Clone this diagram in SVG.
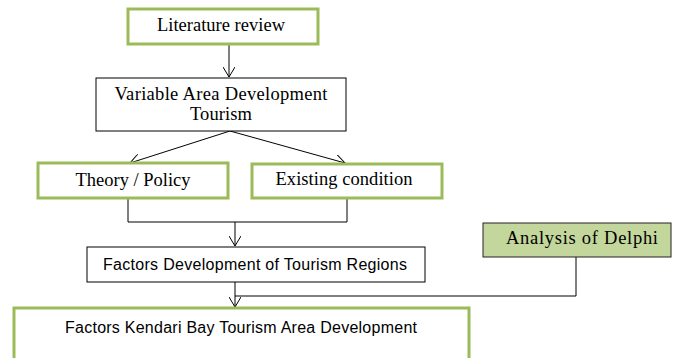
<svg xmlns="http://www.w3.org/2000/svg" width="675" height="358" viewBox="0 0 675 358">
<defs>
<style>
.green{fill:#fff;stroke:#9BBB59;stroke-width:3}
.plain{fill:#fff;stroke:#000;stroke-width:1}
.serif{font-family:"Liberation Serif","DejaVu Serif",serif;font-size:18.5px;fill:#000;text-anchor:middle}
.sans{font-family:"Liberation Sans","DejaVu Sans",sans-serif;font-size:16px;fill:#000;text-anchor:middle}
.line{fill:none;stroke:#000;stroke-width:1}
</style>
<marker id="arr" markerWidth="12" markerHeight="12" refX="10" refY="6" orient="auto" markerUnits="userSpaceOnUse">
<polyline points="0,0 10,6 0,12" fill="none" stroke="#000" stroke-width="1"/>
</marker>
</defs>
<rect width="675" height="358" fill="#fff"/>
<g id="connectors">
<line class="line" x1="229" y1="45" x2="229" y2="77" marker-end="url(#arr)"/>
<line class="line" x1="230" y1="131" x2="130" y2="163" marker-end="url(#arr)"/>
<line class="line" x1="230" y1="131" x2="345" y2="163" marker-end="url(#arr)"/>
<polyline class="line" points="128,199 128,222 347,222 347,199"/>
<line class="line" x1="235" y1="222" x2="235" y2="246" marker-end="url(#arr)"/>
<line class="line" x1="235" y1="282" x2="235" y2="307" marker-end="url(#arr)"/>
<polyline class="line" points="235,296 576,296 576,257"/>
</g>
<g id="literature">
<rect class="green" x="128" y="9" width="190" height="35"/>
<text class="serif" x="221" y="31" textLength="128">Literature review</text>
</g>
<g id="variable">
<rect class="plain" x="96" y="78" width="250" height="53"/>
<text class="serif" x="221" y="100" textLength="213">Variable Area Development</text>
<text class="serif" x="221" y="120" textLength="62">Tourism</text>
</g>
<g id="theory">
<rect class="green" x="38" y="163" width="190" height="35"/>
<text class="serif" x="133" y="186" textLength="115">Theory / Policy</text>
</g>
<g id="existing">
<rect class="green" x="252" y="164" width="190" height="34"/>
<text class="serif" x="344" y="185" textLength="137">Existing condition</text>
</g>
<g id="factors">
<rect class="plain" x="87" y="247" width="338" height="35"/>
<text class="sans" x="255" y="270" textLength="304">Factors Development of Tourism Regions</text>
</g>
<g id="delphi">
<rect x="483" y="223" width="188" height="34" fill="#C3D69B" stroke="#222" stroke-width="1"/>
<text class="serif" x="582" y="244" textLength="152">Analysis of Delphi</text>
</g>
<g id="kendari">
<rect class="green" x="14" y="308" width="455" height="60"/>
<text class="sans" x="241" y="333" textLength="352">Factors Kendari Bay Tourism Area Development</text>
</g>
</svg>
